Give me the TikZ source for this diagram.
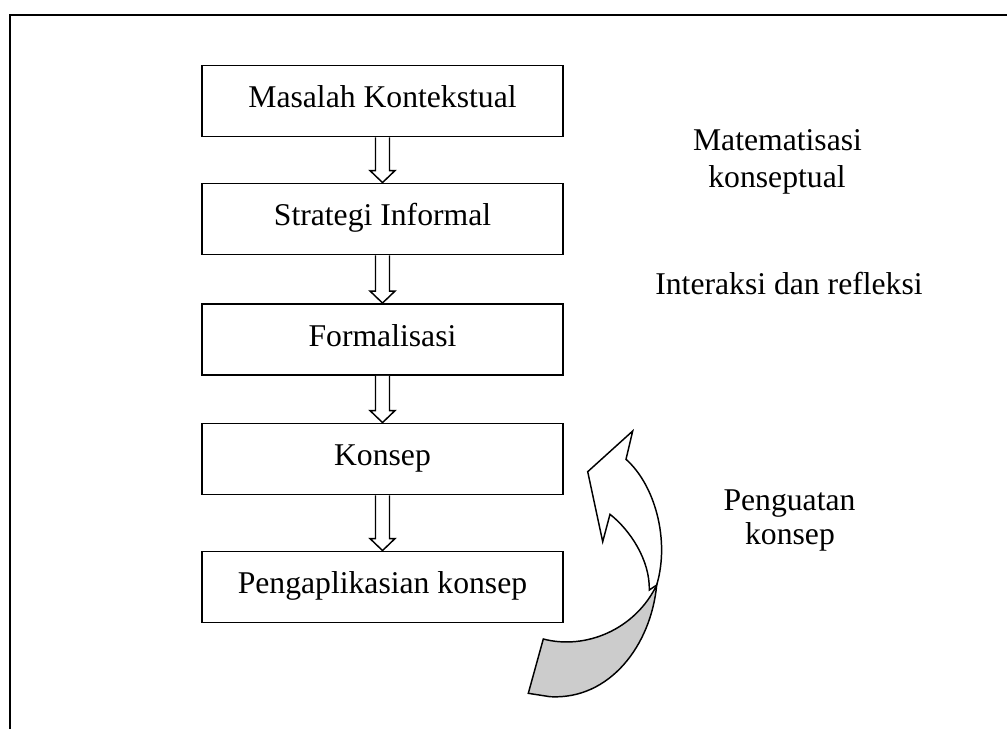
\documentclass[tikz,border=0pt]{standalone}
\usepackage{fontspec}
\setmainfont{Liberation Serif}
\usetikzlibrary{calc}
\tikzset{
  stepbox/.style={draw, line width=1.4pt, minimum width=270.75pt, minimum height=53.25pt,
    inner sep=0pt, text height=15pt, text depth=5pt, font=\fontsize{23.75}{27.5}\selectfont},
  sidetext/.style={anchor=base, inner sep=0pt, font=\fontsize{23.75}{27.5}\selectfont},
  blockarr/.style={draw, line width=1.1pt, fill=white, line join=miter},
  frameline/.style={line width=1.6pt},
  ribbon/.style={draw, line width=1.1pt, line join=miter}
}
\newcommand{\blockarrow}[2]{%
  \draw[blockarr] ($(#1.south)+(-7,0)$) -- ($(#2.north)+(-7,-12)$) -- ($(#2.north)+(-12.5,-12)$)
    -- (#2.north) -- ($(#2.north)+(12.5,-12)$) -- ($(#2.north)+(7,-12)$) -- ($(#1.south)+(7,0)$);}
\begin{document}
\begin{tikzpicture}[x=0.75pt,y=-0.75pt]
\useasboundingbox (0,0) rectangle (1007,729);
% frame
\coordinate (fbl) at (10,729);
\coordinate (ftl) at (10,15);
\coordinate (ftr) at (1007,15);
\draw[frameline] (fbl) -- (ftl) -- (ftr);
% boxes
\node[stepbox] (b1) at (382.5,101) {Masalah Kontekstual};
\node[stepbox] (b2) at (382.5,219) {Strategi Informal};
\node[stepbox] (b3) at (382.5,339.5) {Formalisasi};
\node[stepbox] (b4) at (382.5,459) {Konsep};
\node[stepbox] (b5) at (382.5,587) {Pengaplikasian konsep};
\blockarrow{b1}{b2}
\blockarrow{b2}{b3}
\blockarrow{b3}{b4}
\blockarrow{b4}{b5}
% side texts
\node[sidetext] (m1) at (777.5,150.7) {Matematisasi};
\node[sidetext] (m2) at (777,187.5) {konseptual};
\node[sidetext] (ir) at (789,294.3) {Interaksi dan refleksi};
\node[sidetext] (p1) at (789.5,510) {Penguatan};
\node[sidetext] (p2) at (790,544) {konsep};
% curved ribbon arrow
\coordinate (A) at (632.7,431);
\coordinate (RN) at (626,459.3);
\coordinate (T) at (656.7,585);
\coordinate (IE) at (649.3,590);
\coordinate (LN) at (610,514.3);
\coordinate (LH) at (602.7,541.7);
\coordinate (LB) at (587.7,471.7);
\coordinate (B1) at (550,696.7);
\coordinate (BL) at (528.3,693.3);
\coordinate (GTL) at (543.3,639);
\draw[ribbon, fill=white] (A) -- (RN) .. controls (655,485) and (670,540) .. (T)
  -- (IE) .. controls (650,560) and (630,530) .. (LN) -- (LH) -- (LB) -- cycle;
\draw[ribbon, fill=black!20] (GTL) .. controls (585,650) and (635,630) .. (T)
  .. controls (651,645) and (610,700) .. (B1) -- (BL) -- cycle;
\end{tikzpicture}
\end{document}
